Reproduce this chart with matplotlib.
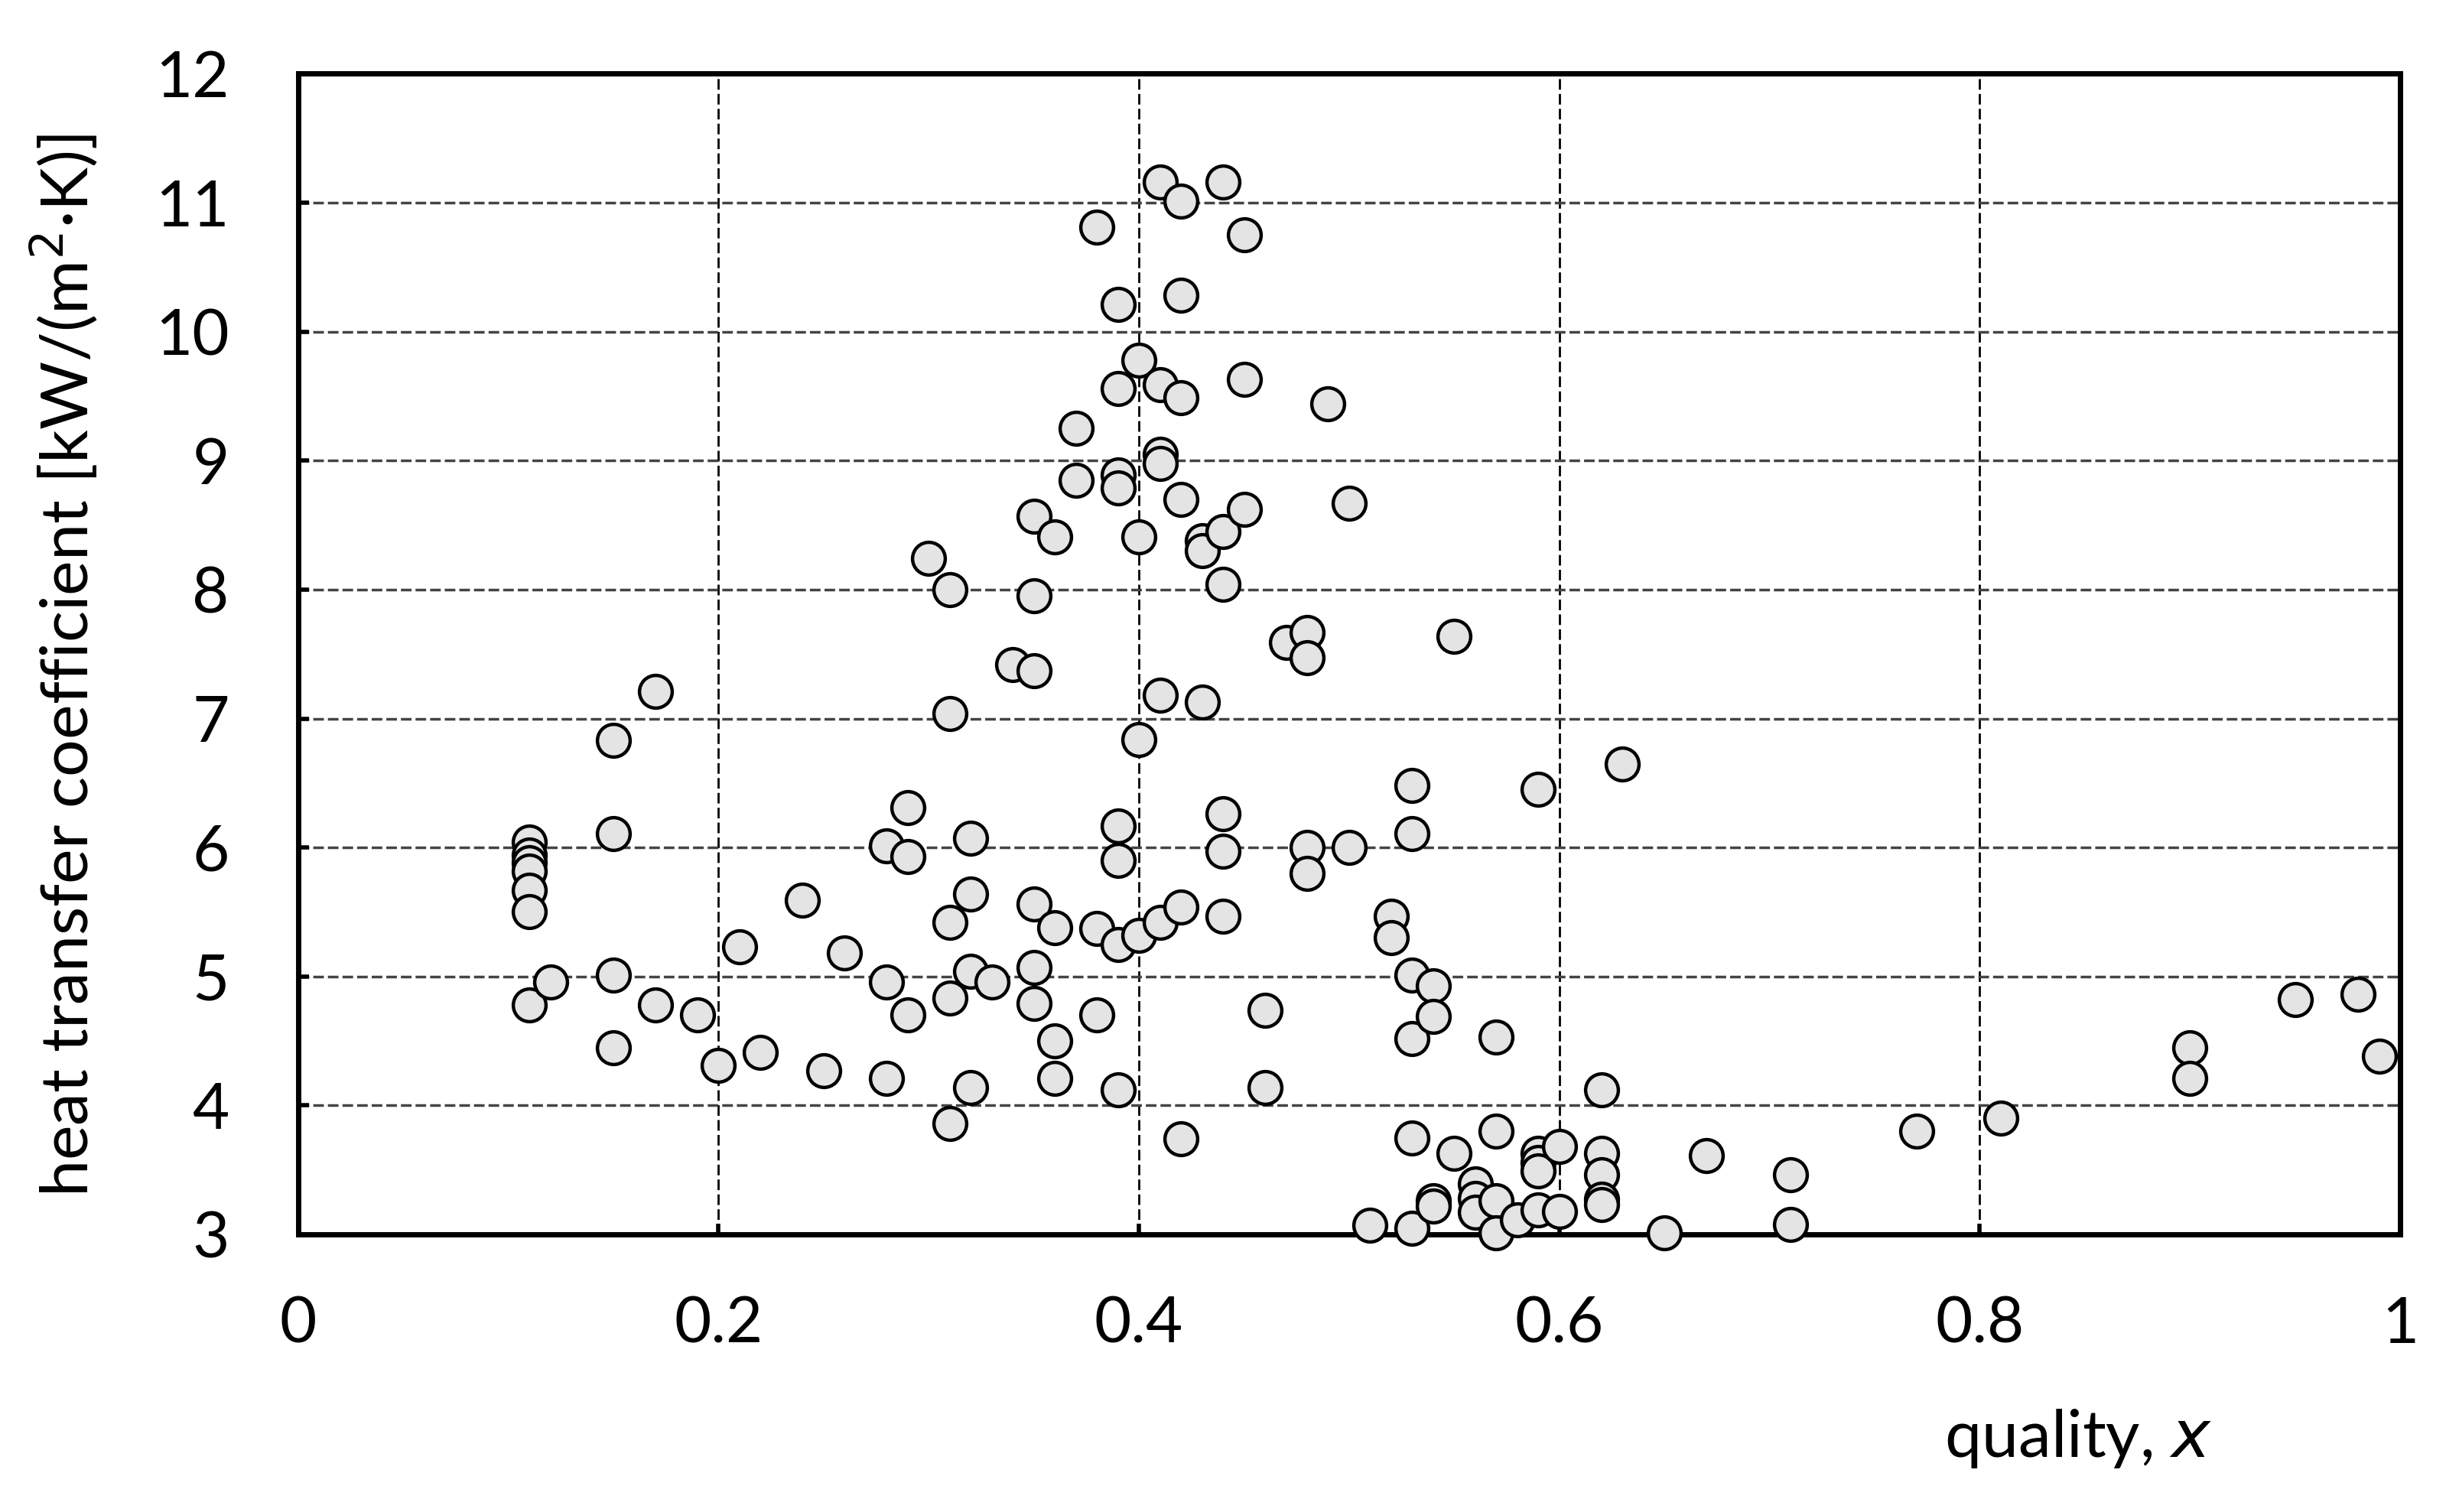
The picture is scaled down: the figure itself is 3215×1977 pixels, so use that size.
"""Heat transfer coefficient vs. vapour quality scatter."""

import matplotlib.pyplot as plt

# values
quality = [
    0.11, 0.11, 0.11, 0.11, 0.11, 0.11, 0.11, 0.12,
    0.15, 0.15, 0.15, 0.15, 0.17, 0.17, 0.19, 0.20, 0.21, 0.22, 0.24, 0.25, 0.26,
    0.28, 0.28, 0.28, 0.29, 0.29, 0.29, 0.30,
    0.31, 0.31, 0.31, 0.31, 0.31, 0.32, 0.32, 0.32, 0.32, 0.33, 0.34,
    0.35, 0.35, 0.35, 0.35, 0.35, 0.35, 0.36, 0.36, 0.36, 0.36, 0.37, 0.37,
    0.38, 0.38, 0.38,
    0.39, 0.39, 0.39, 0.39, 0.39, 0.39, 0.39, 0.39,
    0.40, 0.40, 0.40, 0.40,
    0.41, 0.41, 0.41, 0.41, 0.41, 0.41,
    0.42, 0.42, 0.42, 0.42, 0.42, 0.42,
    0.43, 0.43, 0.43,
    0.44, 0.44, 0.44, 0.44, 0.44, 0.44,
    0.45, 0.45, 0.45, 0.46, 0.46, 0.47, 0.48, 0.48, 0.48, 0.48, 0.49, 0.50, 0.50,
    0.51, 0.52, 0.52, 0.53, 0.53, 0.53, 0.53, 0.53, 0.53,
    0.54, 0.54, 0.54, 0.54, 0.55, 0.55, 0.56, 0.56, 0.56,
    0.57, 0.57, 0.57, 0.57, 0.58, 0.59, 0.59, 0.59, 0.59, 0.59, 0.60, 0.60,
    0.62, 0.62, 0.62, 0.62, 0.62, 0.63, 0.65, 0.67, 0.71, 0.71,
    0.77, 0.81, 0.90, 0.90, 0.95, 0.98, 0.99,
]
htc = [
    6.04, 5.94, 5.88, 5.82, 5.67, 5.50, 4.78, 4.96,
    6.83, 6.11, 5.01, 4.45, 7.21, 4.78, 4.70, 4.31, 5.23, 4.41, 5.59, 4.27, 5.18,
    6.01, 4.96, 4.21, 6.31, 5.93, 4.70, 8.24,
    8.00, 7.04, 5.42, 4.83, 3.86, 6.07, 5.64, 5.04, 4.14, 4.96, 7.42,
    8.57, 7.95, 7.37, 5.56, 5.07, 4.79, 8.41, 5.38, 4.50, 4.21, 9.25, 8.85,
    10.81, 5.37, 4.70,
    10.21, 9.56, 8.89, 8.79, 6.17, 5.90, 5.25, 4.12,
    9.78, 8.41, 6.84, 5.32,
    11.16, 9.59, 9.05, 8.98, 7.18, 5.42,
    11.01, 10.28, 9.49, 8.70, 5.54, 3.74,
    8.38, 8.30, 7.13,
    11.16, 8.45, 8.04, 6.26, 5.97, 5.47,
    10.75, 9.63, 8.62, 4.74, 4.14, 7.59, 7.67, 7.47, 6.00, 5.80, 9.44, 8.67, 6.00,
    3.07, 5.47, 5.30, 6.48, 6.11, 5.01, 4.52, 3.75, 3.05,
    4.93, 4.69, 3.26, 3.22, 7.64, 3.63, 3.39, 3.28, 3.17,
    4.53, 3.80, 3.26, 3.01, 3.11, 6.45, 3.63, 3.56, 3.49, 3.19, 3.68, 3.18,
    4.12, 3.63, 3.46, 3.27, 3.23, 6.65, 3.01, 3.61, 3.46, 3.08,
    3.80, 3.90, 4.45, 4.21, 4.82, 4.86, 4.38,
]
x_ticks = [0, 0.2, 0.4, 0.6, 0.8, 1]
x_labels = ["0", "0.2", "0.4", "0.6", "0.8", "1"]
y_ticks = list(range(3, 13))

plt.rcParams["font.family"] = ["Lato", "DejaVu Sans"]

fig = plt.figure(figsize=(32.16, 19.77), dpi=100)
ax = fig.add_axes([0.1212, 0.1836, 0.8546, 0.7676])

ax.scatter(quality, htc, s=950, facecolor="#e4e4e4", edgecolor="black",
           linewidth=3.2, zorder=5, clip_on=False)

ax.set_xlim(0, 1)
ax.set_ylim(3, 12)
ax.set_xticks(x_ticks)
ax.set_xticklabels(x_labels)
ax.set_yticks(y_ticks)

ax.yaxis.grid(True, color="#444444", linestyle=(0, (4, 1.5)), linewidth=2.5)
ax.xaxis.grid(True, color="black", linestyle=(0, (5, 2)), linewidth=2)
ax.set_axisbelow(True)

for spine in ax.spines.values():
    spine.set_linewidth(5)
    spine.set_zorder(4)

ax.tick_params(direction="in", length=10, width=4, labelsize=60)
ax.tick_params(axis="x", pad=58)
ax.tick_params(axis="y", pad=65)

ax.set_ylabel("heat transfer coefficient [kW/(m$^2$·K)]", fontsize=62)
ax.yaxis.set_label_coords(-0.094, 0.49)
ax.set_xlabel("quality, $\\it{x}$", fontsize=62, x=0.9105, ha="right")
ax.xaxis.set_label_coords(0.9105, -0.149)

fig.savefig("out.png", dpi=100)
